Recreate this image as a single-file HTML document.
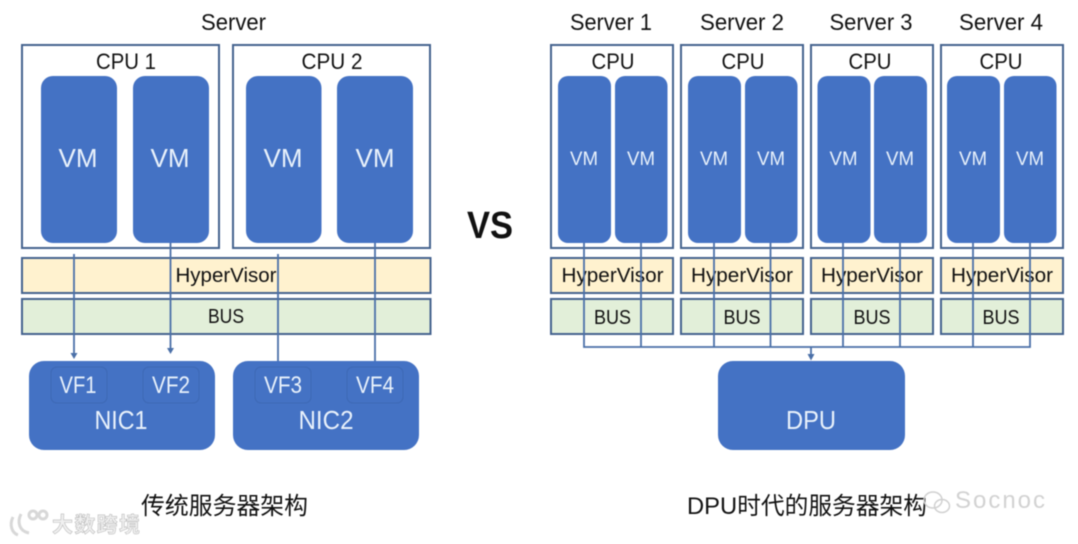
<!DOCTYPE html>
<html><head><meta charset="utf-8"><style>
html,body{margin:0;padding:0;background:#fff;width:1078px;height:544px;overflow:hidden}
svg{display:block;filter:blur(.45px)}
text{font-family:"Liberation Sans","Noto Sans CJK SC",sans-serif;text-anchor:middle;fill:#111}
.w{fill:#e8f1fb}
.box{fill:#fff;stroke:#46638f;stroke-width:2}
.hv{fill:#fff2cf;stroke:#46638f;stroke-width:2}
.bus{fill:#e2efd9;stroke:#46638f;stroke-width:2}
.b{fill:#4472c4}
.vf{fill:#4472c4;stroke:#3d68b4;stroke-width:1}
.l{stroke:#4b70a8;stroke-width:1.8;fill:none}
.a{fill:#4b70a8}
</style></head><body>
<svg width="1078" height="544" viewBox="0 0 1078 544" xmlns="http://www.w3.org/2000/svg">
<!-- Left -->
<text x="233.500" y="30" font-size="23" textLength="65" lengthAdjust="spacingAndGlyphs">Server</text>
<rect class="box" x="22" y="45" width="197" height="203"/>
<rect class="box" x="233" y="45" width="197" height="203"/>
<text x="126" y="69" font-size="22" textLength="60" lengthAdjust="spacingAndGlyphs">CPU 1</text>
<text x="332" y="69" font-size="22" textLength="61" lengthAdjust="spacingAndGlyphs">CPU 2</text>
<rect class="b" x="41" y="76" width="76" height="167" rx="12"/>
<rect class="b" x="133" y="76" width="76" height="167" rx="12"/>
<rect class="b" x="246" y="76" width="75.500" height="167" rx="12"/>
<rect class="b" x="337" y="76" width="76" height="167" rx="12"/>
<g font-size="26"><text class="w" x="78" y="167" textLength="39" lengthAdjust="spacingAndGlyphs">VM</text>
<text class="w" x="170" y="167" textLength="39" lengthAdjust="spacingAndGlyphs">VM</text>
<text class="w" x="283" y="167" textLength="39" lengthAdjust="spacingAndGlyphs">VM</text>
<text class="w" x="375" y="167" textLength="39" lengthAdjust="spacingAndGlyphs">VM</text></g>
<rect class="hv" x="22" y="258" width="408.500" height="35"/>
<rect class="bus" x="22" y="299" width="408.500" height="35"/>
<text x="226" y="282" font-size="20.500" textLength="101" lengthAdjust="spacingAndGlyphs">HyperVisor</text>
<text x="226" y="323" font-size="20.500" textLength="36" lengthAdjust="spacingAndGlyphs">BUS</text>
<rect class="b" x="29" y="361" width="186" height="89" rx="15"/>
<rect class="b" x="233" y="361" width="186" height="89" rx="15"/>
<rect class="vf" x="51" y="367" width="56" height="36" rx="6"/>
<rect class="vf" x="143" y="367" width="56" height="36" rx="6"/>
<rect class="vf" x="255" y="367" width="56" height="36" rx="6"/>
<rect class="vf" x="347" y="367" width="56" height="36" rx="6"/>
<g font-size="24">
<text class="w" x="78" y="393" textLength="37" lengthAdjust="spacingAndGlyphs">VF1</text>
<text class="w" x="171" y="393" textLength="38" lengthAdjust="spacingAndGlyphs">VF2</text>
<text class="w" x="283" y="393" textLength="38" lengthAdjust="spacingAndGlyphs">VF3</text>
<text class="w" x="375" y="393" textLength="38" lengthAdjust="spacingAndGlyphs">VF4</text>
<text class="w" x="121" y="429" font-size="26" textLength="53" lengthAdjust="spacingAndGlyphs">NIC1</text>
<text class="w" x="326" y="429" font-size="26" textLength="55" lengthAdjust="spacingAndGlyphs">NIC2</text></g>
<path class="l" d="M74 254V354M170.500 243V349M278 254V361M375 243V361"/>
<path class="a" d="M70.500 353H77.500L74 359ZM167 348H174L170.500 354Z"/>
<text x="490" y="238" font-size="38" font-weight="700" textLength="46" lengthAdjust="spacingAndGlyphs">VS</text>
<text x="224.500" y="514" font-size="24" textLength="167" lengthAdjust="spacingAndGlyphs">传统服务器架构</text>

<!-- Right -->
<g font-size="23">
<text x="611" y="30" textLength="82" lengthAdjust="spacingAndGlyphs">Server 1</text>
<text x="742" y="30" textLength="84" lengthAdjust="spacingAndGlyphs">Server 2</text>
<text x="871" y="30" textLength="83" lengthAdjust="spacingAndGlyphs">Server 3</text>
<text x="1001" y="30" textLength="84" lengthAdjust="spacingAndGlyphs">Server 4</text>
</g>
<rect class="box" x="551" y="45" width="122" height="203"/>
<rect class="box" x="681" y="45" width="122" height="203"/>
<rect class="box" x="811" y="45" width="122" height="203"/>
<rect class="box" x="941" y="45" width="122" height="203"/>
<text x="613" y="69" font-size="22" textLength="43" lengthAdjust="spacingAndGlyphs">CPU</text>
<text x="743" y="69" font-size="22" textLength="43" lengthAdjust="spacingAndGlyphs">CPU</text>
<text x="870" y="69" font-size="22" textLength="43" lengthAdjust="spacingAndGlyphs">CPU</text>
<text x="1001" y="69" font-size="22" textLength="43" lengthAdjust="spacingAndGlyphs">CPU</text>
<g class="b">
<rect x="558" y="76" width="53" height="167" rx="10"/><rect x="615" y="76" width="52.500" height="167" rx="10"/>
<rect x="688" y="76" width="53" height="167" rx="10"/><rect x="745" y="76" width="52.500" height="167" rx="10"/>
<rect x="817.500" y="76" width="53" height="167" rx="10"/><rect x="874" y="76" width="53" height="167" rx="10"/>
<rect x="947" y="76" width="53" height="167" rx="10"/><rect x="1004" y="76" width="52.500" height="167" rx="10"/>
</g>
<g font-size="19">
<text class="w" x="584" y="165" textLength="28" lengthAdjust="spacingAndGlyphs">VM</text>
<text class="w" x="641" y="165" textLength="28" lengthAdjust="spacingAndGlyphs">VM</text>
<text class="w" x="714" y="165" textLength="28" lengthAdjust="spacingAndGlyphs">VM</text>
<text class="w" x="771" y="165" textLength="28" lengthAdjust="spacingAndGlyphs">VM</text>
<text class="w" x="843.500" y="165" textLength="28" lengthAdjust="spacingAndGlyphs">VM</text>
<text class="w" x="900" y="165" textLength="28" lengthAdjust="spacingAndGlyphs">VM</text>
<text class="w" x="973" y="165" textLength="28" lengthAdjust="spacingAndGlyphs">VM</text>
<text class="w" x="1030" y="165" textLength="28" lengthAdjust="spacingAndGlyphs">VM</text>
</g>
<rect class="hv" x="551" y="258" width="122" height="35"/><rect class="bus" x="551" y="299" width="122" height="35"/>
<rect class="hv" x="681" y="258" width="122" height="35"/><rect class="bus" x="681" y="299" width="122" height="35"/>
<rect class="hv" x="811" y="258" width="122" height="35"/><rect class="bus" x="811" y="299" width="122" height="35"/>
<rect class="hv" x="941" y="258" width="122" height="35"/><rect class="bus" x="941" y="299" width="122" height="35"/>
<g font-size="20.500">
<text x="612.500" y="282" textLength="102" lengthAdjust="spacingAndGlyphs">HyperVisor</text>
<text x="742" y="282" textLength="102" lengthAdjust="spacingAndGlyphs">HyperVisor</text>
<text x="872" y="282" textLength="102" lengthAdjust="spacingAndGlyphs">HyperVisor</text>
<text x="1002" y="282" textLength="102" lengthAdjust="spacingAndGlyphs">HyperVisor</text>
<text x="612.500" y="324" textLength="37" lengthAdjust="spacingAndGlyphs">BUS</text>
<text x="742" y="324" textLength="37" lengthAdjust="spacingAndGlyphs">BUS</text>
<text x="872" y="324" textLength="37" lengthAdjust="spacingAndGlyphs">BUS</text>
<text x="1001" y="324" textLength="37" lengthAdjust="spacingAndGlyphs">BUS</text>
</g>
<path class="l" d="M584 243V347M641 243V347M714 243V347M770.500 243V347M843 243V347M900 243V347M973 243V347M1030 243V347M583.100 347H1030.900M811 347V356"/>
<path class="a" d="M807.500 354H814.500L811 360.500Z"/>
<rect class="b" x="718" y="361" width="187" height="89" rx="15"/>
<text class="w" x="811" y="429" font-size="26" textLength="50" lengthAdjust="spacingAndGlyphs">DPU</text>
<text x="807" y="514" font-size="24" textLength="240" lengthAdjust="spacingAndGlyphs">DPU时代的服务器架构</text>

<!-- Watermarks -->
<text x="96" y="532" font-size="21" font-weight="700" textLength="88" lengthAdjust="spacing" style="fill:#f0f0f0;stroke:#bdbdbd;stroke-width:.6">大数跨境</text>
<text x="1000" y="508" font-size="24" textLength="90" lengthAdjust="spacing" style="fill:#d2d2d2">Socnoc</text>
<g fill="none" stroke="#d8d8d8" stroke-width="3">
<path d="M13 517C9 525 12 533 18 535M21 514C17 522 19 531 29 533"/>
<circle cx="33" cy="515" r="4"/><circle cx="43" cy="515" r="4"/>
</g>
<g fill="none" stroke="#d0d0d0" stroke-width="1.500">
<ellipse cx="933" cy="500" rx="9" ry="8"/><ellipse cx="942" cy="506" rx="7.500" ry="6.500"/>
</g>
</svg>
</body></html>
